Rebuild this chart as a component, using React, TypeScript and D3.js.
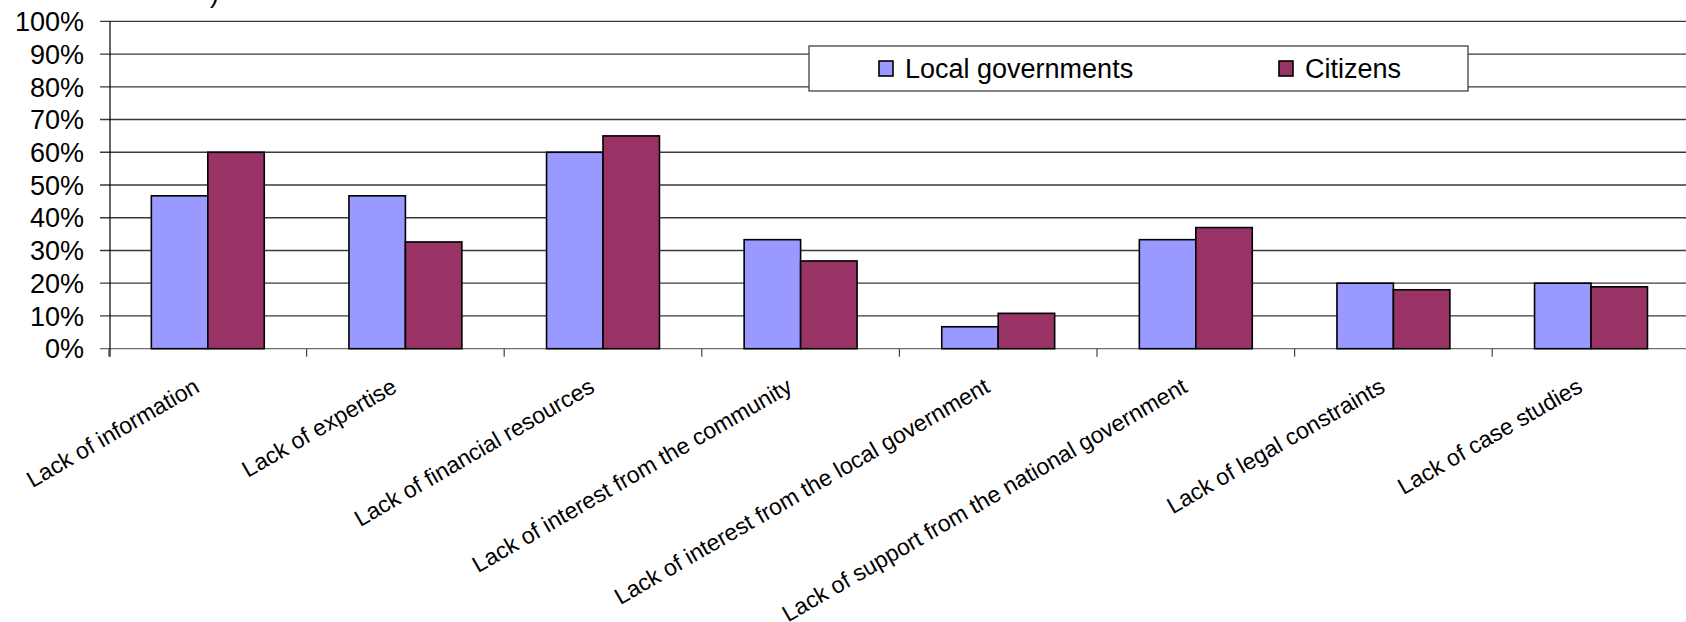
import React from "react";
import * as d3 from "d3";

const categories = [
  "Lack of information",
  "Lack of expertise",
  "Lack of financial resources",
  "Lack of interest from the community",
  "Lack of interest from the local government",
  "Lack of support from the national government",
  "Lack of legal constraints",
  "Lack of case studies",
];
const seriesNames = ["Local governments", "Citizens"];
const localGovernments = [0.467, 0.467, 0.6, 0.333, 0.067, 0.333, 0.2, 0.2];
const citizens = [0.6, 0.326, 0.65, 0.268, 0.108, 0.37, 0.18, 0.189];
const yTicks = [0, 0.1, 0.2, 0.3, 0.4, 0.5, 0.6, 0.7, 0.8, 0.9, 1.0];
const colors = ["#9999FF", "#993366"];

const W = 1686;
const H = 622;
const FONT = "'Liberation Sans', Arial, Helvetica, sans-serif";

export default function App() {
  const left = 110;
  const right = 1690.8;
  const y0 = 348.7;
  const y1 = 21.3;

  const x = d3.scaleBand<string>().domain(categories).range([left - 1, right - 1]).padding(0);
  const xs = d3
    .scaleBand<string>()
    .domain(seriesNames)
    .range([0, x.bandwidth()])
    .paddingInner(0)
    .paddingOuter(0.75);
  const y = d3.scaleLinear().domain([0, 1]).range([y0, y1]);
  const fmt = d3.format(".0%");
  const values = [localGovernments, citizens];

  const boundaries = categories.map((c) => x(c) as number).concat([right - 1]);

  return (
    <svg
      width={W}
      height={H}
      style={{ position: "absolute", left: 0, top: 0, background: "#fff" }}
      fontFamily={FONT}
    >
      <rect x={0} y={0} width={W} height={H} fill="#fff" />
      {/* cut-off title fragment */}
      <text x={210} y={2} fontSize={27} fill="#000">)</text>

      {/* gridlines */}
      {yTicks.map((t) => (
        <line
          key={"g" + t}
          x1={left - 10}
          x2={right}
          y1={y(t)}
          y2={y(t)}
          stroke={t === 0 ? "#6e6e6e" : "#3a3a3a"}
          strokeWidth={1.3}
        />
      ))}
      {/* y tick labels */}
      {yTicks.map((t) => (
        <text
          key={"l" + t}
          x={84}
          y={y(t)}
          dy="0.36em"
          textAnchor="end"
          fontSize={27}
          fill="#000"
        >
          {fmt(t)}
        </text>
      ))}
      {/* y axis */}
      <line x1={left} x2={left} y1={y1} y2={y0 + 8} stroke="#000" strokeWidth={1.2} />
      {/* category ticks */}
      {boundaries.map((b, i) => (
        <line key={"t" + i} x1={b} x2={b} y1={y0} y2={y0 + 8} stroke="#444" strokeWidth={1.2} />
      ))}

      {/* bars */}
      {categories.map((c, i) => (
        <g key={c} transform={`translate(${x(c)},0)`}>
          {seriesNames.map((s, j) => (
            <rect
              key={s}
              x={xs(s) as number}
              y={y(values[j][i])}
              width={xs.bandwidth()}
              height={y0 - y(values[j][i])}
              fill={colors[j]}
              stroke="#000"
              strokeWidth={1.6}
            />
          ))}
        </g>
      ))}

      {/* category labels */}
      {categories.map((c) => {
        const cx = (x(c) as number) + x.bandwidth() / 2 - 7;
        const cy = 391;
        return (
          <text
            key={"c" + c}
            x={cx}
            y={cy}
            transform={`rotate(-30, ${cx}, ${cy})`}
            textAnchor="end"
            fontSize={23}
            fill="#000"
          >
            {c}
          </text>
        );
      })}

      {/* legend */}
      <rect x={809} y={46} width={659} height={45} fill="#fff" stroke="#333" strokeWidth={1.2} />
      {seriesNames.map((s, j) => {
        const lx = j === 0 ? 879 : 1279;
        return (
          <g key={"lg" + s}>
            <rect x={lx} y={61} width={14} height={15} fill={colors[j]} stroke="#000" strokeWidth={1.6} />
            <text x={lx + 26} y={68.5} dy="0.36em" fontSize={27} fill="#000">
              {s}
            </text>
          </g>
        );
      })}
    </svg>
  );
}
